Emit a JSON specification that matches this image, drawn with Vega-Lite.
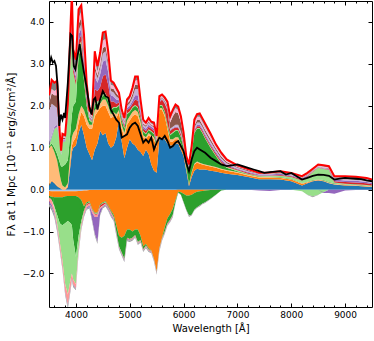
{
"$schema": "https://vega.github.io/schema/vega-lite/v6.json",
"width": 323, "height": 306,
"autosize": "none",
"padding": {"left": 49, "top": 1, "right": 2, "bottom": 34},
"config": {
  "font": "DejaVu Sans",
  "view": {"stroke": "black", "strokeWidth": 1},
  "axis": {"grid": false, "domain": false, "tickColor": "#000", "labelColor": "#000", "titleColor": "#000", "labelFontSize": 9, "titleFontSize": 10, "titleFontWeight": "normal", "labelFont": "DejaVu Sans", "titleFont": "DejaVu Sans", "tickWidth": 1}
},
"datasets": {
"rows": [
{"w":3500,"e01":0.10,"e02":0.02,"e03":0.88,"e04":0.02,"e05":0.03,"e06":0,"e07":0.05,"e08":0.80,"e09":0.15,"e10":0.05,"e11":0.15,"a01":-0.03,"a02":-0.12,"a03":-0.03,"a04":0,"a05":0,"a06":-0.10,"a07":-0.05,"a08":-0.07},
{"w":3550,"e01":0.20,"e02":0.02,"e03":0.83,"e04":0.05,"e05":0.15,"e06":0,"e07":0.05,"e08":0.75,"e09":0.25,"e10":0.10,"e11":0.22,"a01":-0.04,"a02":-0.13,"a03":-0.08,"a04":0,"a05":0,"a06":-0.11,"a07":-0.06,"a08":-0.08},
{"w":3600,"e01":0.15,"e02":0.02,"e03":0.73,"e04":0.10,"e05":0.45,"e06":0,"e07":0.05,"e08":0.50,"e09":0.25,"e10":0.10,"e11":0.20,"a01":-0.04,"a02":-0.14,"a03":-0.22,"a04":-0.05,"a05":0,"a06":-0.10,"a07":-0.05,"a08":-0.07},
{"w":3650,"e01":0.08,"e02":0.02,"e03":0.60,"e04":0.15,"e05":0.65,"e06":0,"e07":0.05,"e08":0.40,"e09":0.30,"e10":0.15,"e11":0.20,"a01":-0.04,"a02":-0.14,"a03":-0.42,"a04":-0.20,"a05":0,"a06":-0.10,"a07":-0.03,"a08":-0.07},
{"w":3700,"e01":0.04,"e02":0.01,"e03":0.30,"e04":0.30,"e05":0.50,"e06":0,"e07":0.03,"e08":0.04,"e09":0.04,"e10":0.04,"e11":0.05,"a01":-0.04,"a02":-0.14,"a03":-0.62,"a04":-0.45,"a05":0,"a06":-0.13,"a07":-0.02,"a08":-0.05},
{"w":3725,"e01":0.02,"e02":0.01,"e03":0.17,"e04":0.35,"e05":0.27,"e06":0,"e07":0.02,"e08":0.02,"e09":0.02,"e10":0.02,"e11":0.03,"a01":-0.04,"a02":-0.14,"a03":-0.65,"a04":-0.65,"a05":0,"a06":-0.14,"a07":-0.02,"a08":-0.05},
{"w":3750,"e01":0,"e02":0.01,"e03":0.09,"e04":0.45,"e05":0.60,"e06":0,"e07":0.03,"e08":0.03,"e09":0.03,"e10":0.03,"e11":0.06,"a01":-0.04,"a02":-0.14,"a03":-0.67,"a04":-0.85,"a05":0,"a06":-0.15,"a07":-0.02,"a08":-0.05},
{"w":3800,"e01":0,"e02":0.01,"e03":0.04,"e04":0.55,"e05":0.55,"e06":0,"e07":0.03,"e08":0.03,"e09":0.03,"e10":0.03,"e11":0.03,"a01":-0.04,"a02":-0.12,"a03":-0.64,"a04":-1.45,"a05":0,"a06":-0.20,"a07":-0.02,"a08":-0.05},
{"w":3850,"e01":0.05,"e02":0.03,"e03":0.07,"e04":0.55,"e05":1.00,"e06":0.05,"e07":0.05,"e08":0.05,"e09":0.05,"e10":0.05,"e11":0.10,"a01":-0.04,"a02":-0.11,"a03":-0.60,"a04":-1.75,"a05":0,"a06":-0.25,"a07":-0.02,"a08":-0.08},
{"w":3900,"e01":0.60,"e02":0.15,"e03":0.20,"e04":0.45,"e05":1.70,"e06":0.10,"e07":0.10,"e08":0.10,"e09":0.15,"e10":0.15,"e11":0.20,"a01":-0.04,"a02":-0.11,"a03":-0.65,"a04":-1.35,"a05":0,"a06":-0.20,"a07":-0.02,"a08":-0.05},
{"w":3925,"e01":0.90,"e02":0.15,"e03":0.20,"e04":0.55,"e05":1.80,"e06":0.15,"e07":0.15,"e08":0.15,"e09":0.15,"e10":0.20,"e11":0.30,"a01":-0.04,"a02":-0.11,"a03":-0.70,"a04":-1.15,"a05":0,"a06":-0.12,"a07":-0.02,"a08":-0.04},
{"w":3950,"e01":1.00,"e02":0.15,"e03":0.20,"e04":0.65,"e05":0.80,"e06":0.10,"e07":0.10,"e08":0.05,"e09":0.10,"e10":0.10,"e11":0.10,"a01":-0.04,"a02":-0.11,"a03":-1.05,"a04":-0.95,"a05":0,"a06":-0.12,"a07":-0.02,"a08":-0.04},
{"w":4000,"e01":1.05,"e02":0.20,"e03":0.20,"e04":0.65,"e05":0.40,"e06":0.10,"e07":0.10,"e08":0.05,"e09":0.10,"e10":0.10,"e11":0.15,"a01":-0.04,"a02":-0.11,"a03":-1.45,"a04":-0.65,"a05":0,"a06":-0.10,"a07":-0.02,"a08":-0.03},
{"w":4050,"e01":1.35,"e02":0.25,"e03":0.20,"e04":1.40,"e05":0.20,"e06":0.15,"e07":0.15,"e08":0.10,"e09":0.15,"e10":0.15,"e11":0.20,"a01":-0.03,"a02":-0.15,"a03":-0.92,"a04":-0.30,"a05":0,"a06":-0.07,"a07":-0.03,"a08":-0.03},
{"w":4100,"e01":1.55,"e02":0.30,"e03":0.15,"e04":1.40,"e05":0.15,"e06":0.15,"e07":0.15,"e08":0.10,"e09":0.15,"e10":0.15,"e11":0.15,"a01":-0.03,"a02":-0.22,"a03":-0.50,"a04":-0.10,"a05":-0.01,"a06":-0.06,"a07":-0.02,"a08":-0.03},
{"w":4150,"e01":1.30,"e02":0.45,"e03":0.15,"e04":0.70,"e05":0.10,"e06":0.20,"e07":0.20,"e08":0.10,"e09":0.15,"e10":0.20,"e11":0.15,"a01":-0.02,"a02":-0.38,"a03":-0.10,"a04":-0.02,"a05":-0.02,"a06":-0.06,"a07":-0.02,"a08":-0.03},
{"w":4200,"e01":1.00,"e02":0.55,"e03":0.15,"e04":0.30,"e05":0.05,"e06":0.10,"e07":0.10,"e08":0.05,"e09":0.05,"e10":0.10,"e11":0.10,"a01":-0.02,"a02":-0.28,"a03":-0.03,"a04":-0.01,"a05":-0.03,"a06":-0.06,"a07":-0.02,"a08":-0.03},
{"w":4250,"e01":0.85,"e02":0.60,"e03":0.10,"e04":0.10,"e05":0.05,"e06":0.02,"e07":0.03,"e08":0.03,"e09":0.02,"e10":0.05,"e11":0.05,"a01":-0.01,"a02":-0.27,"a03":-0.02,"a04":-0.01,"a05":-0.03,"a06":-0.04,"a07":-0.04,"a08":-0.03},
{"w":4300,"e01":0.70,"e02":0.75,"e03":0.10,"e04":0.05,"e05":0.02,"e06":0.02,"e07":0.03,"e08":0.03,"e09":0.03,"e10":0.03,"e11":0.06,"a01":-0.01,"a02":-0.44,"a03":-0.02,"a04":-0.01,"a05":-0.02,"a06":-0.05,"a07":-0.17,"a08":-0.04},
{"w":4350,"e01":0.95,"e02":0.80,"e03":0.15,"e04":0.15,"e05":0.05,"e06":0.30,"e07":0.30,"e08":0.15,"e09":0.10,"e10":0.15,"e11":0.20,"a01":-0.01,"a02":-0.54,"a03":-0.02,"a04":-0.01,"a05":-0.02,"a06":-0.05,"a07":-0.40,"a08":-0.05},
{"w":4400,"e01":1.10,"e02":0.75,"e03":0.10,"e04":0.10,"e05":0.05,"e06":0.25,"e07":0.20,"e08":0.10,"e09":0.07,"e10":0.10,"e11":0.13,"a01":-0.01,"a02":-0.54,"a03":-0.02,"a04":-0.01,"a05":-0.02,"a06":-0.05,"a07":-0.60,"a08":-0.05},
{"w":4450,"e01":1.40,"e02":0.55,"e03":0.10,"e04":0.05,"e05":0.05,"e06":0.30,"e07":0.30,"e08":0.15,"e09":0.08,"e10":0.12,"e11":0.17,"a01":-0.01,"a02":-0.34,"a03":-0.02,"a04":-0.01,"a05":-0.04,"a06":-0.04,"a07":-0.12,"a08":-0.04},
{"w":4500,"e01":1.30,"e02":0.70,"e03":0.15,"e04":0.10,"e05":0.05,"e06":0.40,"e07":0.35,"e08":0.20,"e09":0.13,"e10":0.17,"e11":0.20,"a01":-0.01,"a02":-0.29,"a03":-0.02,"a04":-0.01,"a05":-0.05,"a06":-0.02,"a07":-0.02,"a08":-0.03},
{"w":4550,"e01":1.35,"e02":0.65,"e03":0.15,"e04":0.10,"e05":0.05,"e06":0.45,"e07":0.35,"e08":0.20,"e09":0.12,"e10":0.18,"e11":0.17,"a01":-0.01,"a02":-0.27,"a03":-0.02,"a04":-0.01,"a05":-0.02,"a06":-0.02,"a07":-0.02,"a08":-0.03},
{"w":4600,"e01":1.10,"e02":0.75,"e03":0.15,"e04":0.10,"e05":0.05,"e06":0.35,"e07":0.30,"e08":0.15,"e09":0.10,"e10":0.15,"e11":0.10,"a01":-0.01,"a02":-0.37,"a03":-0.02,"a04":-0.01,"a05":-0.02,"a06":-0.02,"a07":-0.03,"a08":-0.03},
{"w":4650,"e01":1.00,"e02":0.70,"e03":0.10,"e04":0.10,"e05":0.02,"e06":0.18,"e07":0.15,"e08":0.10,"e09":0.07,"e10":0.08,"e11":0.10,"a01":-0.01,"a02":-0.49,"a03":-0.03,"a04":-0.01,"a05":-0.02,"a06":-0.02,"a07":-0.04,"a08":-0.03},
{"w":4700,"e01":1.05,"e02":0.70,"e03":0.10,"e04":0.10,"e05":0.02,"e06":0.13,"e07":0.12,"e08":0.10,"e09":0.08,"e10":0.08,"e11":0.07,"a01":-0.01,"a02":-0.59,"a03":-0.05,"a04":-0.01,"a05":-0.01,"a06":-0.02,"a07":-0.03,"a08":-0.03},
{"w":4750,"e01":1.25,"e02":0.45,"e03":0.10,"e04":0.15,"e05":0.02,"e06":0.08,"e07":0.10,"e08":0.07,"e09":0.08,"e10":0.06,"e11":0.07,"a01":-0.01,"a02":-0.84,"a03":-0.15,"a04":-0.01,"a05":-0.01,"a06":-0.02,"a07":-0.03,"a08":-0.03},
{"w":4800,"e01":1.65,"e02":0.20,"e03":0.05,"e04":0.10,"e05":0.02,"e06":0.06,"e07":0.05,"e08":0.05,"e09":0.04,"e10":0.04,"e11":0.05,"a01":-0.01,"a02":-1.09,"a03":-0.25,"a04":-0.01,"a05":-0.01,"a06":-0.01,"a07":-0.02,"a08":-0.03},
{"w":4850,"e01":1.15,"e02":0.30,"e03":0.10,"e04":0.10,"e05":0.02,"e06":0.05,"e07":0.04,"e08":0.04,"e09":0.04,"e10":0.03,"e11":0.04,"a01":-0.01,"a02":-1.14,"a03":-0.35,"a04":-0.01,"a05":-0.01,"a06":-0.01,"a07":-0.02,"a08":-0.03},
{"w":4900,"e01":0.75,"e02":0.50,"e03":0.10,"e04":0.10,"e05":0.02,"e06":0.05,"e07":0.04,"e08":0.04,"e09":0.04,"e10":0.03,"e11":0.04,"a01":-0.01,"a02":-1.09,"a03":-0.55,"a04":-0.01,"a05":-0.01,"a06":-0.01,"a07":-0.02,"a08":-0.03},
{"w":4950,"e01":1.00,"e02":0.55,"e03":0.10,"e04":0.15,"e05":0.02,"e06":0.08,"e07":0.05,"e08":0.05,"e09":0.05,"e10":0.05,"e11":0.05,"a01":-0.01,"a02":-0.94,"a03":-0.20,"a04":-0.01,"a05":-0.01,"a06":-0.01,"a07":-0.02,"a08":-0.03},
{"w":5000,"e01":1.20,"e02":0.45,"e03":0.10,"e04":0.10,"e05":0.02,"e06":0.08,"e07":0.05,"e08":0.06,"e09":0.06,"e10":0.05,"e11":0.06,"a01":-0.01,"a02":-0.94,"a03":-0.23,"a04":-0.01,"a05":-0.01,"a06":-0.01,"a07":-0.01,"a08":-0.03},
{"w":5050,"e01":1.10,"e02":0.65,"e03":0.10,"e04":0.10,"e05":0.02,"e06":0.08,"e07":0.07,"e08":0.08,"e09":0.08,"e10":0.07,"e11":0.08,"a01":-0.01,"a02":-0.99,"a03":-0.15,"a04":-0.01,"a05":-0.01,"a06":-0.01,"a07":-0.01,"a08":-0.03},
{"w":5100,"e01":1.05,"e02":0.75,"e03":0.10,"e04":0.10,"e05":0.02,"e06":0.13,"e07":0.10,"e08":0.15,"e09":0.10,"e10":0.10,"e11":0.10,"a01":-0.01,"a02":-0.94,"a03":-0.13,"a04":-0.01,"a05":-0.01,"a06":-0.01,"a07":-0.01,"a08":-0.03},
{"w":5150,"e01":0.95,"e02":0.80,"e03":0.10,"e04":0.10,"e05":0.02,"e06":0.15,"e07":0.13,"e08":0.15,"e09":0.10,"e10":0.12,"e11":0.08,"a01":-0.01,"a02":-0.94,"a03":-0.30,"a04":-0.01,"a05":-0.01,"a06":-0.01,"a07":-0.01,"a08":-0.03},
{"w":5200,"e01":0.90,"e02":0.65,"e03":0.07,"e04":0.08,"e05":0.02,"e06":0.08,"e07":0.08,"e08":0.07,"e09":0.05,"e10":0.08,"e11":0.07,"a01":-0.01,"a02":-1.09,"a03":-0.10,"a04":-0.01,"a05":-0.01,"a06":-0.01,"a07":-0.01,"a08":-0.03},
{"w":5250,"e01":0.80,"e02":0.45,"e03":0.05,"e04":0.08,"e05":0.02,"e06":0.05,"e07":0.05,"e08":0.05,"e09":0.03,"e10":0.04,"e11":0.05,"a01":-0.01,"a02":-1.34,"a03":-0.07,"a04":-0.01,"a05":-0.01,"a06":-0.01,"a07":-0.01,"a08":-0.03},
{"w":5300,"e01":0.95,"e02":0.25,"e03":0.05,"e04":0.07,"e05":0.02,"e06":0.06,"e07":0.05,"e08":0.05,"e09":0.03,"e10":0.04,"e11":0.03,"a01":-0.01,"a02":-1.29,"a03":-0.03,"a04":-0.01,"a05":-0.01,"a06":-0.01,"a07":-0.01,"a08":-0.03},
{"w":5350,"e01":0.85,"e02":0.45,"e03":0.05,"e04":0.07,"e05":0.02,"e06":0.06,"e07":0.05,"e08":0.05,"e09":0.03,"e10":0.04,"e11":0.04,"a01":-0.01,"a02":-1.39,"a03":-0.02,"a04":-0.01,"a05":-0.01,"a06":-0.01,"a07":-0.01,"a08":-0.03},
{"w":5400,"e01":0.60,"e02":0.65,"e03":0.05,"e04":0.08,"e05":0.02,"e06":0.05,"e07":0.05,"e08":0.03,"e09":0.02,"e10":0.03,"e11":0.04,"a01":-0.01,"a02":-1.44,"a03":-0.01,"a04":-0.01,"a05":-0.01,"a06":-0.01,"a07":-0.01,"a08":-0.02},
{"w":5450,"e01":0.45,"e02":0.75,"e03":0.05,"e04":0.07,"e05":0.02,"e06":0.06,"e07":0.05,"e08":0.03,"e09":0.03,"e10":0.04,"e11":0.05,"a01":-0.01,"a02":-1.64,"a03":-0.01,"a04":-0.01,"a05":-0.01,"a06":-0.01,"a07":-0.01,"a08":-0.02},
{"w":5500,"e01":0.40,"e02":0.60,"e03":0.05,"e04":0.05,"e05":0.02,"e06":0.03,"e07":0.03,"e08":0.02,"e09":0.02,"e10":0.03,"e11":0.03,"a01":-0.01,"a02":-1.94,"a03":-0.01,"a04":-0.01,"a05":-0.01,"a06":-0.01,"a07":-0.01,"a08":-0.03},
{"w":5550,"e01":1.20,"e02":0.70,"e03":0.05,"e04":0.05,"e05":0.02,"e06":0.06,"e07":0.02,"e08":0.02,"e09":0.03,"e10":0.03,"e11":0.05,"a01":-0.01,"a02":-1.39,"a03":-0.01,"a04":-0.01,"a05":-0.01,"a06":-0.01,"a07":-0.01,"a08":-0.03},
{"w":5600,"e01":1.25,"e02":0.65,"e03":0.05,"e04":0.05,"e05":0.02,"e06":0.13,"e07":0.02,"e08":0.02,"e09":0.02,"e10":0.03,"e11":0.03,"a01":-0.01,"a02":-1.14,"a03":-0.01,"a04":-0.01,"a05":-0.01,"a06":-0.01,"a07":-0.01,"a08":-0.02},
{"w":5650,"e01":1.20,"e02":0.55,"e03":0.05,"e04":0.05,"e05":0.02,"e06":0.18,"e07":0.02,"e08":0.02,"e09":0.03,"e10":0.03,"e11":0.05,"a01":-0.01,"a02":-0.89,"a03":-0.10,"a04":-0.01,"a05":-0.01,"a06":-0.01,"a07":-0.01,"a08":-0.02},
{"w":5700,"e01":1.10,"e02":0.35,"e03":0.05,"e04":0.05,"e05":0.02,"e06":0.33,"e07":0.02,"e08":0.03,"e09":0.05,"e10":0.05,"e11":0.05,"a01":-0.01,"a02":-0.67,"a03":-0.12,"a04":-0.01,"a05":-0.01,"a06":-0.01,"a07":-0.01,"a08":-0.02},
{"w":5750,"e01":1.05,"e02":0.10,"e03":0.05,"e04":0.10,"e05":0.02,"e06":0.08,"e07":0.02,"e08":0.03,"e09":0.15,"e10":0.08,"e11":0.07,"a01":-0.01,"a02":-0.57,"a03":-0.14,"a04":-0.01,"a05":-0.01,"a06":-0.01,"a07":-0.01,"a08":-0.02},
{"w":5800,"e01":1.05,"e02":0.10,"e03":0.05,"e04":0.15,"e05":0.02,"e06":0.08,"e07":0.02,"e08":0.03,"e09":0.25,"e10":0.08,"e11":0.08,"a01":-0.01,"a02":-0.44,"a03":-0.15,"a04":-0.01,"a05":-0.01,"a06":-0.01,"a07":-0.01,"a08":-0.02},
{"w":5850,"e01":1.10,"e02":0.10,"e03":0.05,"e04":0.15,"e05":0.02,"e06":0.06,"e07":0.02,"e08":0.05,"e09":0.30,"e10":0.10,"e11":0.08,"a01":-0.01,"a02":-0.24,"a03":-0.05,"a04":-0.01,"a05":0,"a06":0,"a07":-0.01,"a08":-0.01},
{"w":5900,"e01":1.10,"e02":0.10,"e03":0.05,"e04":0.15,"e05":0.02,"e06":0.06,"e07":0.02,"e08":0.05,"e09":0.27,"e10":0.08,"e11":0.08,"a01":0,"a02":-0.05,"a03":-0.02,"a04":0,"a05":0,"a06":0,"a07":0,"a08":-0.01},
{"w":5950,"e01":0.95,"e02":0.10,"e03":0.05,"e04":0.15,"e05":0.02,"e06":0.05,"e07":0.02,"e08":0.04,"e09":0.22,"e10":0.08,"e11":0.07,"a01":0,"a02":-0.06,"a03":-0.06,"a04":0,"a05":0,"a06":0,"a07":0,"a08":-0.01},
{"w":6000,"e01":0.80,"e02":0.10,"e03":0.02,"e04":0.08,"e05":0.02,"e06":0.04,"e07":0.02,"e08":0.04,"e09":0.13,"e10":0.06,"e11":0.05,"a01":0,"a02":-0.10,"a03":-0.20,"a04":0,"a05":0,"a06":0,"a07":0,"a08":-0.02},
{"w":6050,"e01":0.45,"e02":0.05,"e03":0.02,"e04":0.10,"e05":0.02,"e06":0.02,"e07":0.02,"e08":0.02,"e09":0.04,"e10":0.03,"e11":0.03,"a01":0,"a02":-0.14,"a03":-0.34,"a04":0,"a05":0,"a06":0,"a07":0,"a08":-0.02},
{"w":6100,"e01":0.08,"e02":0.04,"e03":0.01,"e04":0.32,"e05":0.02,"e06":0.02,"e07":0.02,"e08":0.02,"e09":0.02,"e10":0.02,"e11":0.03,"a01":0,"a02":-0.14,"a03":-0.48,"a04":0,"a05":0,"a06":0,"a07":0,"a08":-0.03},
{"w":6150,"e01":0.30,"e02":0.10,"e03":0.02,"e04":0.43,"e05":0.02,"e06":0.02,"e07":0.02,"e08":0.03,"e09":0.03,"e10":0.03,"e11":0.04,"a01":0,"a02":-0.12,"a03":-0.48,"a04":0,"a05":0,"a06":0,"a07":0,"a08":-0.02},
{"w":6200,"e01":0.45,"e02":0.15,"e03":0.02,"e04":0.73,"e05":0.02,"e06":0.03,"e07":0.03,"e08":0.05,"e09":0.05,"e10":0.07,"e11":0.07,"a01":0,"a02":-0.08,"a03":-0.40,"a04":0,"a05":0,"a06":0,"a07":0,"a08":-0.02},
{"w":6250,"e01":0.50,"e02":0.15,"e03":0.02,"e04":0.78,"e05":0.02,"e06":0.04,"e07":0.04,"e08":0.05,"e09":0.06,"e10":0.08,"e11":0.06,"a01":0,"a02":-0.05,"a03":-0.37,"a04":0,"a05":0,"a06":0,"a07":0,"a08":-0.02},
{"w":6300,"e01":0.48,"e02":0.14,"e03":0.02,"e04":0.81,"e05":0.02,"e06":0.04,"e07":0.04,"e08":0.05,"e09":0.06,"e10":0.08,"e11":0.08,"a01":0,"a02":-0.04,"a03":-0.34,"a04":0,"a05":0,"a06":0,"a07":0,"a08":-0.02},
{"w":6350,"e01":0.48,"e02":0.12,"e03":0.02,"e04":0.73,"e05":0.02,"e06":0.04,"e07":0.04,"e08":0.05,"e09":0.05,"e10":0.07,"e11":0.08,"a01":0,"a02":-0.03,"a03":-0.30,"a04":0,"a05":0,"a06":0,"a07":0,"a08":-0.02},
{"w":6400,"e01":0.48,"e02":0.10,"e03":0.02,"e04":0.62,"e05":0.02,"e06":0.04,"e07":0.04,"e08":0.05,"e09":0.05,"e10":0.08,"e11":0.08,"a01":0,"a02":-0.02,"a03":-0.28,"a04":0,"a05":0,"a06":0,"a07":0,"a08":-0.02},
{"w":6500,"e01":0.45,"e02":0.10,"e03":0.02,"e04":0.43,"e05":0.02,"e06":0.04,"e07":0.04,"e08":0.05,"e09":0.05,"e10":0.08,"e11":0.06,"a01":0,"a02":-0.01,"a03":-0.21,"a04":0,"a05":0,"a06":0,"a07":0,"a08":-0.01},
{"w":6600,"e01":0.43,"e02":0.09,"e03":0.02,"e04":0.26,"e05":0.02,"e06":0.04,"e07":0.04,"e08":0.04,"e09":0.04,"e10":0.06,"e11":0.04,"a01":0,"a02":-0.01,"a03":-0.11,"a04":0,"a05":0,"a06":0,"a07":0,"a08":-0.01},
{"w":6700,"e01":0.40,"e02":0.08,"e03":0.02,"e04":0.12,"e05":0.02,"e06":0.04,"e07":0.04,"e08":0.03,"e09":0.04,"e10":0.04,"e11":0.05,"a01":0,"a02":0,"a03":-0.02,"a04":0,"a05":0,"a06":0,"a07":0,"a08":0},
{"w":6800,"e01":0.38,"e02":0.07,"e03":0.02,"e04":0.05,"e05":0.02,"e06":0.03,"e07":0.03,"e08":0.03,"e09":0.03,"e10":0.03,"e11":0.03,"a01":0,"a02":0,"a03":0,"a04":0,"a05":0,"a06":0,"a07":0,"a08":0},
{"w":7000,"e01":0.35,"e02":0.05,"e03":0.02,"e04":0.02,"e05":0.02,"e06":0.02,"e07":0.02,"e08":0.02,"e09":0.02,"e10":0.02,"e11":0.02,"a01":0,"a02":0,"a03":0,"a04":0,"a05":0,"a06":0,"a07":0,"a08":0},
{"w":7200,"e01":0.30,"e02":0.04,"e03":0.02,"e04":0.01,"e05":0.01,"e06":0.02,"e07":0.02,"e08":0.02,"e09":0.02,"e10":0.02,"e11":0.01,"a01":0,"a02":0,"a03":0,"a04":0,"a05":0,"a06":0,"a07":0,"a08":0},
{"w":7400,"e01":0.25,"e02":0.04,"e03":0.02,"e04":0.01,"e05":0.01,"e06":0.01,"e07":0.02,"e08":0.01,"e09":0.01,"e10":0.01,"e11":0.01,"a01":0,"a02":0,"a03":0,"a04":0,"a05":0,"a06":0,"a07":-0.02,"a08":0},
{"w":7600,"e01":0.25,"e02":0.04,"e03":0.01,"e04":0.01,"e05":0.02,"e06":0.01,"e07":0.02,"e08":0.01,"e09":0.01,"e10":0.01,"e11":0.02,"a01":0,"a02":0,"a03":0,"a04":0,"a05":0,"a06":0,"a07":-0.03,"a08":0},
{"w":7800,"e01":0.24,"e02":0.04,"e03":0.01,"e04":0.01,"e05":0.03,"e06":0.02,"e07":0.03,"e08":0.01,"e09":0.02,"e10":0.01,"e11":0.02,"a01":0,"a02":0,"a03":0,"a04":0,"a05":0,"a06":0,"a07":-0.01,"a08":0},
{"w":8000,"e01":0.20,"e02":0.04,"e03":0.01,"e04":0.01,"e05":0.04,"e06":0.02,"e07":0.02,"e08":0.02,"e09":0.01,"e10":0.01,"e11":0.02,"a01":0,"a02":0,"a03":0,"a04":0,"a05":0,"a06":0,"a07":0,"a08":0},
{"w":8200,"e01":0.10,"e02":0.04,"e03":0.01,"e04":0.01,"e05":0.06,"e06":0.02,"e07":0.03,"e08":0.01,"e09":0.01,"e10":0.01,"e11":0.02,"a01":0,"a02":0,"a03":0,"a04":-0.04,"a05":0,"a06":0,"a07":0,"a08":0},
{"w":8300,"e01":0.15,"e02":0.02,"e03":0.01,"e04":0.01,"e05":0.11,"e06":0.02,"e07":0.02,"e08":0.01,"e09":0.01,"e10":0.01,"e11":0.03,"a01":0,"a02":0,"a03":0,"a04":-0.12,"a05":0,"a06":0,"a07":0,"a08":-0.01},
{"w":8400,"e01":0.20,"e02":0.01,"e03":0.01,"e04":0.01,"e05":0.19,"e06":0.01,"e07":0.01,"e08":0.01,"e09":0.01,"e10":0.01,"e11":0.03,"a01":0,"a02":0,"a03":0,"a04":-0.16,"a05":0,"a06":0,"a07":0,"a08":-0.02},
{"w":8500,"e01":0.22,"e02":0.01,"e03":0.01,"e04":0.01,"e05":0.27,"e06":0.01,"e07":0.01,"e08":0.01,"e09":0.01,"e10":0.01,"e11":0.03,"a01":0,"a02":0,"a03":0,"a04":-0.12,"a05":0,"a06":0,"a07":0,"a08":-0.01},
{"w":8600,"e01":0.20,"e02":0.01,"e03":0.01,"e04":0.01,"e05":0.26,"e06":0.01,"e07":0.01,"e08":0.01,"e09":0.01,"e10":0.02,"e11":0.03,"a01":0,"a02":0,"a03":0,"a04":-0.06,"a05":0,"a06":0,"a07":-0.02,"a08":0},
{"w":8700,"e01":0.15,"e02":0.01,"e03":0.01,"e04":0.01,"e05":0.29,"e06":0.01,"e07":0.01,"e08":0.01,"e09":0.01,"e10":0.02,"e11":0.03,"a01":0,"a02":0,"a03":0,"a04":0,"a05":0,"a06":0,"a07":-0.08,"a08":0},
{"w":8800,"e01":0.12,"e02":0.01,"e03":0.01,"e04":0.01,"e05":0.02,"e06":0.03,"e07":0.04,"e08":0.02,"e09":0.01,"e10":0.02,"e11":0.03,"a01":0,"a02":0,"a03":0,"a04":0,"a05":0,"a06":0,"a07":-0.10,"a08":0},
{"w":9000,"e01":0.10,"e02":0.01,"e03":0.01,"e04":0.01,"e05":0.01,"e06":0.04,"e07":0.04,"e08":0.03,"e09":0.02,"e10":0.02,"e11":0.03,"a01":0,"a02":0,"a03":0,"a04":0,"a05":0,"a06":0,"a07":-0.02,"a08":0},
{"w":9200,"e01":0.09,"e02":0.01,"e03":0.01,"e04":0.01,"e05":0.01,"e06":0.04,"e07":0.04,"e08":0.03,"e09":0.02,"e10":0.02,"e11":0.03,"a01":0,"a02":0,"a03":0,"a04":0,"a05":0,"a06":0,"a07":-0.01,"a08":0},
{"w":9400,"e01":0.07,"e02":0.01,"e03":0.01,"e04":0.01,"e05":0.01,"e06":0.04,"e07":0.03,"e08":0.03,"e09":0.02,"e10":0.02,"e11":0.03,"a01":0,"a02":0,"a03":0,"a04":0,"a05":0,"a06":0,"a07":-0.01,"a08":0},
{"w":9500,"e01":0.06,"e02":0.01,"e03":0.01,"e04":0.01,"e05":0.01,"e06":0.03,"e07":0.03,"e08":0.03,"e09":0.02,"e10":0.01,"e11":0.02,"a01":0,"a02":0,"a03":0,"a04":0,"a05":0,"a06":0,"a07":-0.01,"a08":0}
],
"spec": [
{"w":3500,"f":2.91},{"w":3520,"f":3.05},{"w":3540,"f":3.15},{"w":3570,"f":3.03},{"w":3600,"f":3.07},{"w":3630,"f":2.95},{"w":3660,"f":2.47},{"w":3690,"f":1.52},{"w":3720,"f":1.79},{"w":3750,"f":1.67},{"w":3780,"f":1.83},{"w":3800,"f":1.71},{"w":3850,"f":2.55},{"w":3900,"f":3.71},{"w":3930,"f":3.67},{"w":3960,"f":2.95},{"w":3990,"f":2.87},{"w":4030,"f":3.19},{"w":4070,"f":3.47},{"w":4100,"f":3.19},{"w":4150,"f":2.79},{"w":4200,"f":2.43},{"w":4250,"f":1.99},{"w":4290,"f":1.79},{"w":4330,"f":2.15},{"w":4360,"f":2.19},{"w":4400,"f":1.91},{"w":4450,"f":2.15},{"w":4500,"f":2.35},{"w":4550,"f":2.23},{"w":4600,"f":2.19},{"w":4650,"f":1.91},{"w":4700,"f":1.79},{"w":4750,"f":1.67},{"w":4800,"f":1.6},{"w":4850,"f":1.24},{"w":4900,"f":1.28},{"w":4950,"f":1.32},{"w":5000,"f":1.48},{"w":5050,"f":1.56},{"w":5100,"f":1.6},{"w":5150,"f":1.52},{"w":5200,"f":1.32},{"w":5250,"f":1.12},{"w":5300,"f":1.2},{"w":5350,"f":1.12},{"w":5400,"f":1.24},{"w":5450,"f":0.96},{"w":5500,"f":1.12},{"w":5550,"f":1.24},{"w":5600,"f":1.2},{"w":5650,"f":1.28},{"w":5700,"f":1.16},{"w":5750,"f":1.0},{"w":5800,"f":1.04},{"w":5850,"f":1.12},{"w":5900,"f":1.16},{"w":5950,"f":1.04},{"w":6000,"f":0.92},{"w":6050,"f":0.64},{"w":6100,"f":0.44},{"w":6150,"f":0.72},{"w":6200,"f":0.92},{"w":6250,"f":1.0},{"w":6300,"f":0.96},{"w":6400,"f":0.88},{"w":6500,"f":0.76},{"w":6600,"f":0.68},{"w":6700,"f":0.6},{"w":6800,"f":0.56},{"w":6900,"f":0.58},{"w":7000,"f":0.6},{"w":7100,"f":0.56},{"w":7200,"f":0.52},{"w":7300,"f":0.48},{"w":7400,"f":0.44},{"w":7500,"f":0.4},{"w":7600,"f":0.42},{"w":7700,"f":0.43},{"w":7800,"f":0.44},{"w":7900,"f":0.36},{"w":8000,"f":0.4},{"w":8100,"f":0.32},{"w":8200,"f":0.24},{"w":8300,"f":0.28},{"w":8400,"f":0.33},{"w":8500,"f":0.36},{"w":8600,"f":0.35},{"w":8700,"f":0.33},{"w":8800,"f":0.24},{"w":8900,"f":0.26},{"w":9000,"f":0.28},{"w":9100,"f":0.27},{"w":9200,"f":0.26},{"w":9300,"f":0.25},{"w":9400,"f":0.22},{"w":9500,"f":0.2}
]
},
"layer": [
{
  "data": {"name": "rows"},
  "transform": [{"fold": ["e01","e02","e03","e04","e05","e06","e07","e08","e09","e10","e11","a01","a02","a03","a04","a05","a06","a07","a08"], "as": ["k","v"]}],
  "mark": {"type": "area", "clip": true, "interpolate": "linear"},
  "encoding": {
    "x": {"field": "w", "type": "quantitative", "scale": {"domain": [3500, 9500], "nice": false, "zero": false},
          "axis": {"orient": "bottom", "values": [4000,5000,6000,7000,8000,9000], "format": "d", "offset": -4, "tickSize": 4, "labelPadding": 3, "title": "Wavelength [Å]", "titlePadding": 4}},
    "y": {"field": "v", "type": "quantitative", "stack": "zero", "scale": {"domain": [-2.8, 4.5], "nice": false, "zero": false},
          "axis": {"orient": "left", "values": [-2,-1,0,1,2,3,4], "format": ".1f", "offset": -4, "tickSize": 4, "labelPadding": 5, "title": "Fλ at 1 Mpc [10⁻¹¹ erg/s/cm²/Å]", "titleFontSize": 10.5, "titlePadding": 6}},
    "color": {"field": "k", "type": "nominal", "legend": null,
      "scale": {"domain": ["e01","e02","e03","e04","e05","e06","e07","e08","e09","e10","e11","a01","a02","a03","a04","a05","a06","a07","a08"],
                "range": ["#1f77b4","#ff7f0e","#ffbb78","#2ca02c","#98df8a","#d62728","#9467bd","#c5b0d5","#8c564b","#f7b6d2","#7f7f7f","#aec7e8","#ff7f0e","#2ca02c","#98df8a","#d62728","#ff9896","#9467bd","#a0a0a0"]}},
    "order": {"field": "k", "type": "ordinal", "sort": "ascending"}
  }
},
{
  "mark": {"type": "rule", "color": "black", "strokeWidth": 1.3},
  "encoding": {"y": {"datum": 0, "type": "quantitative", "axis": null}}
},
{
  "data": {"name": "rows"},
  "transform": [{"fold": ["e01","e02","e03","e04","e05","e06","e07","e08","e09","e10","e11"], "as": ["k","v"]}],
  "mark": {"type": "line", "color": "#ff0000", "strokeWidth": 2, "clip": true},
  "encoding": {
    "x": {"field": "w", "type": "quantitative", "axis": {"orient": "top", "values": [4000,5000,6000,7000,8000,9000], "labels": false, "offset": -4, "tickSize": 4, "title": null}},
    "y": {"aggregate": "sum", "field": "v", "type": "quantitative", "axis": {"orient": "right", "values": [-2,-1,0,1,2,3,4], "labels": false, "offset": -4, "tickSize": 4, "title": null}}
  }
},
{
  "data": {"name": "spec"},
  "mark": {"type": "line", "color": "black", "strokeWidth": 1.8, "clip": true},
  "encoding": {
    "x": {"field": "w", "type": "quantitative", "axis": {"orient": "bottom", "values": [3600,3800,4200,4400,4600,4800,5200,5400,5600,5800,6200,6400,6600,6800,7200,7400,7600,7800,8200,8400,8600,8800,9200,9400], "labels": false, "offset": -2, "tickSize": 2, "title": null}},
    "y": {"field": "f", "type": "quantitative", "axis": null}
  }
},
{
  "mark": {"type": "text", "text": "Classic", "align": "right", "baseline": "middle", "fontSize": 12.5, "font": "DejaVu Sans", "color": "black"},
  "encoding": {
    "x": {"datum": 9300, "type": "quantitative", "axis": {"orient": "top", "values": [3600,3800,4200,4400,4600,4800,5200,5400,5600,5800,6200,6400,6600,6800,7200,7400,7600,7800,8200,8400,8600,8800,9200,9400], "labels": false, "offset": -2, "tickSize": 2, "title": null}},
    "y": {"datum": 4.14, "type": "quantitative", "axis": null}
  }
}
],
"resolve": {"axis": {"x": "independent", "y": "independent"}}
}
